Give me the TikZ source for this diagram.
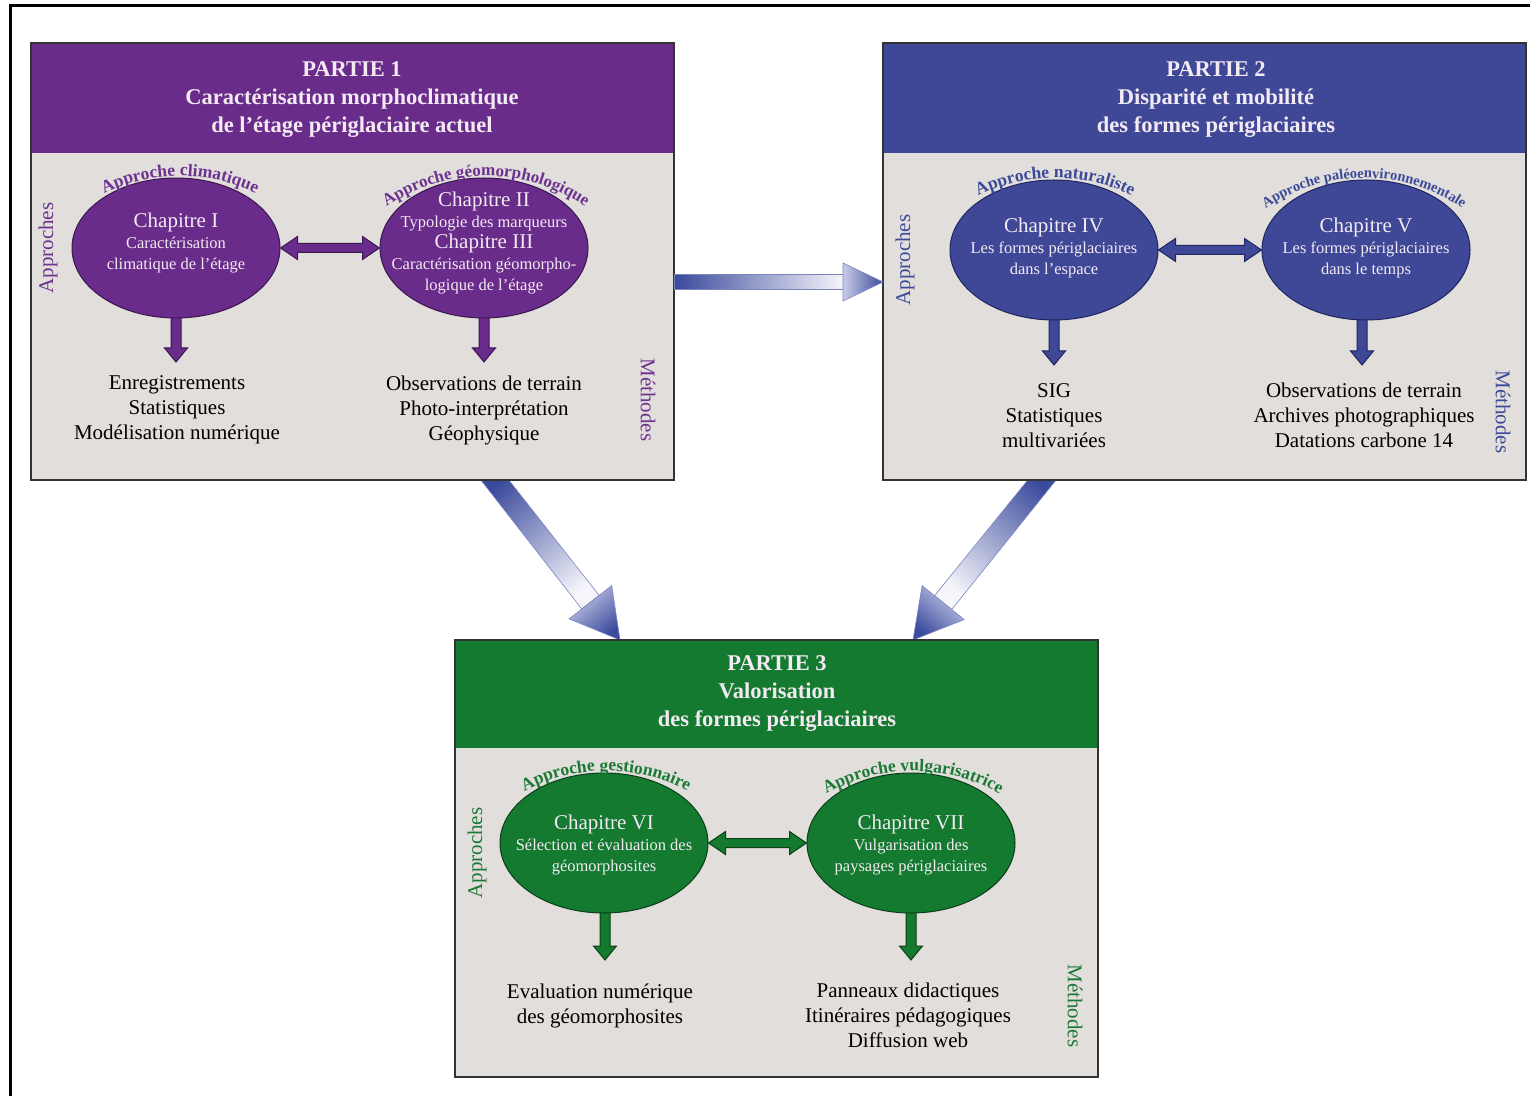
\documentclass[tikz,border=0pt]{standalone}
\usepackage{fontspec}
\setmainfont{Liberation Serif}
\usetikzlibrary{calc,decorations.text,shapes.geometric}
\definecolor{pur}{HTML}{6A2C8A}
\definecolor{purd}{HTML}{3A1750}
\definecolor{purt}{HTML}{6E3391}
\definecolor{blu}{HTML}{3F4896}
\definecolor{blud}{HTML}{1F2560}
\definecolor{blut}{HTML}{3D4A9A}
\definecolor{grn}{HTML}{137A30}
\definecolor{grnd}{HTML}{0A3F18}
\definecolor{grnt}{HTML}{1C7A36}
\definecolor{bodyg}{HTML}{E1DEDB}
\definecolor{ltxt}{HTML}{F3EAF3}
\definecolor{adark}{HTML}{3A4A9C}
\definecolor{alight}{HTML}{F5F5FB}
\definecolor{amid}{HTML}{C9CCE8}
\definecolor{aline}{HTML}{7C84BE}
\newcommand\vblk[3]{\draw[#3] ($(#1)+(-5,0)$) -- ($(#2)+(-5,14)$) -- ($(#2)+(-11.5,14)$) -- (#2) -- ($(#2)+(11.5,14)$) -- ($(#2)+(5,14)$) -- ($(#1)+(5,0)$) -- cycle;}
\newcommand\hblk[3]{\draw[#3] (#1) -- ($(#1)+(17,11.5)$) -- ($(#1)+(17,4.5)$) -- ($(#2)+(-17,4.5)$) -- ($(#2)+(-17,11.5)$) -- (#2) -- ($(#2)+(-17,-11.5)$) -- ($(#2)+(-17,-4.5)$) -- ($(#1)+(17,-4.5)$) -- ($(#1)+(17,-11.5)$) -- cycle;}
\newcommand\arclabel[5]{\path[decorate, decoration={text along path, text align=center, text={|\fontsize{#4}{#4}\selectfont\bfseries\color{#3}|#5}}] ($(#1.center)+(#2,-103)+(150:175)$) arc[start angle=150, end angle=30, radius=175];}
\begin{document}
\begin{tikzpicture}[x=1pt,y=1pt,
  box/.style={draw=black!80, line width=1.3pt, fill=bodyg, minimum width=643pt, minimum height=437pt, inner sep=0pt, outer sep=0pt},
  boxline/.style={draw=black!80, line width=1.3pt},
  htitle/.style={text=ltxt, align=center, font=\fontsize{22.5}{28}\selectfont\bfseries},
  ell/.style={ellipse, minimum width=208pt, minimum height=140pt, inner sep=0pt, line width=1pt},
  etext/.style={text=ltxt, align=center, font=\fontsize{16.5}{21}\selectfont},
  meth/.style={align=center, font=\fontsize{21}{25}\selectfont, text=black},
  side/.style={font=\fontsize{21}{22}\selectfont},
  bigshade/.style={draw=aline, line width=0.6pt}
]
\useasboundingbox (0,0) rectangle (1530,1096);
\fill[white] (0,0) rectangle (1530,1096);
\draw[line width=3pt, black] (10,0) -- (10,1090) -- (1530,1090);

% named anchors for big arrows
\coordinate (a1) at (487,626);
\coordinate (z1) at (620,456);
\coordinate (a2) at (1050,626);
\coordinate (z2) at (913,456);
\coordinate (q1) at ($(z1)!48pt!(a1)$);
\coordinate (q2) at ($(z2)!48pt!(a2)$);

% diagonal big arrows (drawn first, boxes cover their starts)
\shade[left color=adark, right color=alight, shading angle=39.7, bigshade] ($(a1)!11pt!90:(z1)$) -- ($(q1)!11pt!-90:(a1)$) -- ($(q1)!11pt!90:(a1)$) -- ($(a1)!11pt!-90:(z1)$) -- cycle;
\shade[left color=amid, right color=adark, shading angle=39.7, bigshade] ($(q1)!27pt!-90:(a1)$) -- (z1) -- ($(q1)!27pt!90:(a1)$) -- cycle;
\shade[left color=adark, right color=alight, shading angle=-40.6, bigshade] ($(a2)!11pt!90:(z2)$) -- ($(q2)!11pt!-90:(a2)$) -- ($(q2)!11pt!90:(a2)$) -- ($(a2)!11pt!-90:(z2)$) -- cycle;
\shade[left color=amid, right color=adark, shading angle=-40.6, bigshade] ($(q2)!27pt!-90:(a2)$) -- (z2) -- ($(q2)!27pt!90:(a2)$) -- cycle;

% boxes
\node[box] (b1) at (352.5,834.5) {};
\fill[pur] (b1.north west) rectangle ($(b1.north east)+(0,-110)$);
\draw[boxline] (b1.north west) rectangle (b1.south east);
\node[box] (b2) at (1204.5,834.5) {};
\fill[blu] (b2.north west) rectangle ($(b2.north east)+(0,-110)$);
\draw[boxline] (b2.north west) rectangle (b2.south east);
\node[box] (b3) at (776.5,237.5) {};
\fill[grn] (b3.north west) rectangle ($(b3.north east)+(0,-108)$);
\draw[boxline] (b3.north west) rectangle (b3.south east);

% horizontal big arrow
\coordinate (ha) at ($(b1.east)+(0.7,-20.5)$);
\coordinate (hb) at ($(b2.west)+(0,-20.5)$);
\coordinate (hq) at ($(hb)+(-40,0)$);
\shade[left color=adark, right color=alight, bigshade] ($(ha)+(0,7.5)$) rectangle ($(hq)+(0,-7.5)$);
\shade[left color=amid, right color=adark, bigshade] ($(hq)+(0,19)$) -- (hb) -- ($(hq)+(0,-19)$) -- cycle;

% headers
\node[htitle] (h1) at (352,996) {PARTIE 1\\Caractérisation morphoclimatique\\de l’étage périglaciaire actuel};
\node[htitle] (h2) at (1216,996) {PARTIE 2\\Disparité et mobilité\\des formes périglaciaires};
\node[htitle] (h3) at (777,402) {PARTIE 3\\Valorisation\\des formes périglaciaires};

% side labels
\node[side, text=purt, rotate=90] (ap1) at (48,848) {Approches};
\node[side, text=purt, rotate=-90] (me1) at (648,696) {Méthodes};
\node[side, text=blut, rotate=90] (ap2) at (905,836) {Approches};
\node[side, text=blut, rotate=-90] (me2) at (1503,684) {Méthodes};
\node[side, text=grnt, rotate=90] (ap3) at (477,243) {Approches};
\node[side, text=grnt, rotate=-90] (me3) at (1075,90) {Méthodes};

% ellipse positions
\coordinate (c1) at (176,848);
\coordinate (c2) at (484,848);
\coordinate (c4) at (1054,846);
\coordinate (c5) at (1366,846);
\coordinate (c6) at (604,253);
\coordinate (c7) at (911,253);

% down arrow ends
\coordinate (d1) at ($(c1)+(0,-114)$);
\coordinate (d2) at ($(c2)+(0,-114)$);
\coordinate (d4) at ($(c4)+(0,-115)$);
\coordinate (d5) at ($(c5)+(-4,-115)$);
\coordinate (d6) at ($(c6)+(1,-117)$);
\coordinate (d7) at ($(c7)+(0,-117)$);
\coordinate (s1) at ($(c1)+(0,-60)$);
\coordinate (s2) at ($(c2)+(0,-60)$);
\coordinate (s4) at ($(c4)+(0,-60)$);
\coordinate (s5) at ($(c5)+(-4,-60)$);
\coordinate (s6) at ($(c6)+(1,-60)$);
\coordinate (s7) at ($(c7)+(0,-60)$);
\vblk{s1}{d1}{fill=pur, draw=purd, line width=1pt}
\vblk{s2}{d2}{fill=pur, draw=purd, line width=1pt}
\vblk{s4}{d4}{fill=blu, draw=blud, line width=1pt}
\vblk{s5}{d5}{fill=blu, draw=blud, line width=1pt}
\vblk{s6}{d6}{fill=grn, draw=grnd, line width=1pt}
\vblk{s7}{d7}{fill=grn, draw=grnd, line width=1pt}

% ellipses
\node[ell, fill=pur, draw=purd] (e1) at (c1) {};
\node[ell, fill=pur, draw=purd] (e2) at (c2) {};
\node[ell, fill=blu, draw=blud] (e4) at (c4) {};
\node[ell, fill=blu, draw=blud] (e5) at (c5) {};
\node[ell, fill=grn, draw=grnd] (e6) at (c6) {};
\node[ell, fill=grn, draw=grnd] (e7) at (c7) {};

% double arrows between ellipses
\hblk{e1.east}{e2.west}{fill=pur, draw=purd, line width=1pt}
\hblk{e4.east}{e5.west}{fill=blu, draw=blud, line width=1pt}
\hblk{e6.east}{e7.west}{fill=grn, draw=grnd, line width=1pt}

% ellipse texts
\node[etext] (t1) at (176,853) {{\fontsize{21}{22}\selectfont Chapitre I}\\Caractérisation\\climatique de l’étage};
\node[etext] (t2) at (484,853) {{\fontsize{21}{22}\selectfont Chapitre II}\\Typologie des marqueurs\\{\fontsize{21}{22}\selectfont Chapitre III}\\Caractérisation géomorpho-\\logique de l’étage};
\node[etext] (t4) at (1054,848) {{\fontsize{21}{22}\selectfont Chapitre IV}\\Les formes périglaciaires\\dans l’espace};
\node[etext] (t5) at (1366,848) {{\fontsize{21}{22}\selectfont Chapitre V}\\Les formes périglaciaires\\dans le temps};
\node[etext] (t6) at (604,251) {{\fontsize{21}{22}\selectfont Chapitre VI}\\Sélection et évaluation des\\géomorphosites};
\node[etext] (t7) at (911,251) {{\fontsize{21}{22}\selectfont Chapitre VII}\\Vulgarisation des\\paysages périglaciaires};

% curved approach labels
\arclabel{e1}{4}{purt}{17.5}{Approche climatique}
\arclabel{e2}{2}{purt}{17}{Approche géomorphologique}
\arclabel{e4}{1}{blut}{17.5}{Approche naturaliste}
\arclabel{e5}{-2}{blut}{14.5}{Approche paléoenvironnementale}
\arclabel{e6}{2}{grnt}{17.5}{Approche gestionnaire}
\arclabel{e7}{2}{grnt}{17.5}{Approche vulgarisatrice}

% methods
\node[meth] (m1) at (177,686) {Enregistrements\\Statistiques\\Modélisation numérique};
\node[meth] (m2) at (484,686) {Observations de terrain\\Photo-interprétation\\Géophysique};
\node[meth] (m4) at (1054,680) {SIG\\Statistiques\\multivariées};
\node[meth] (m5) at (1364,681) {Observations de terrain\\Archives photographiques\\Datations carbone 14};
\node[meth] (m6) at (600,90) {Evaluation numérique\\des géomorphosites};
\node[meth] (m7) at (908,81) {Panneaux didactiques\\Itinéraires pédagogiques\\Diffusion web};
\end{tikzpicture}
\end{document}
